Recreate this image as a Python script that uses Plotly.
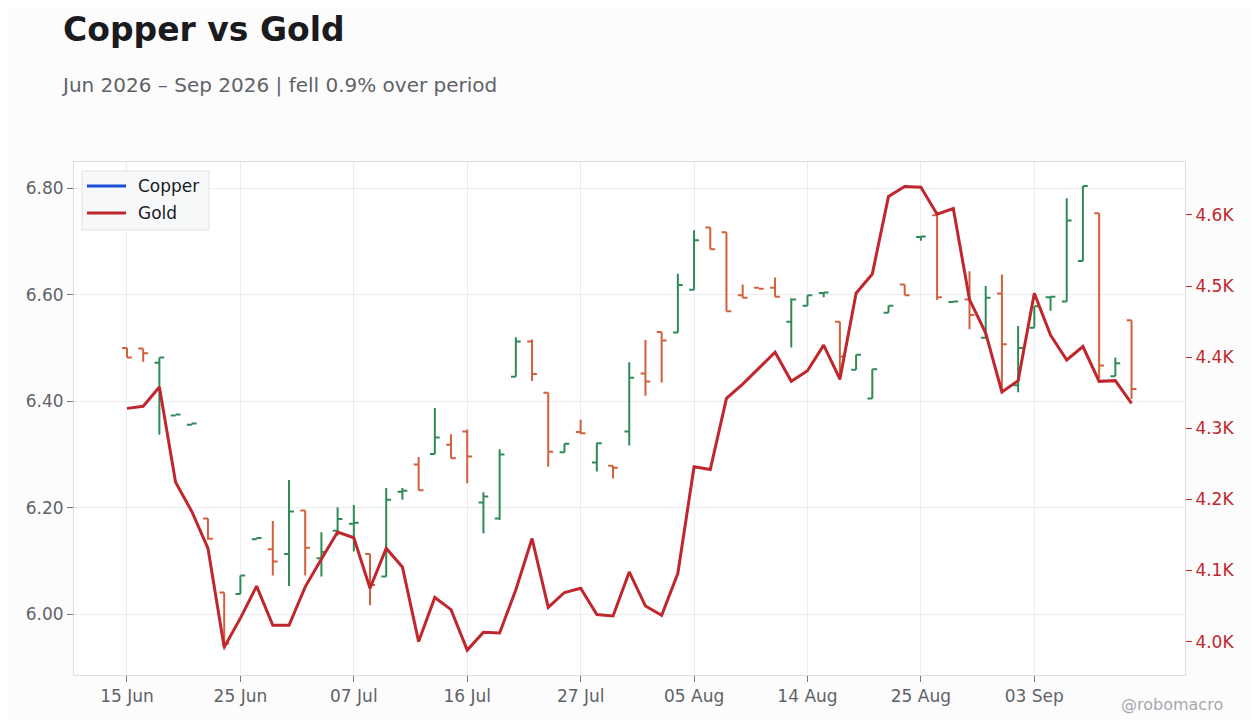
import plotly.graph_objects as go

# trading days (US calendar, holidays skipped)
dates = [
    "2026-06-15", "2026-06-16", "2026-06-17", "2026-06-18", "2026-06-22", "2026-06-23", "2026-06-24",
    "2026-06-25", "2026-06-26", "2026-06-29", "2026-06-30", "2026-07-01", "2026-07-02", "2026-07-06",
    "2026-07-07", "2026-07-08", "2026-07-09", "2026-07-10", "2026-07-13", "2026-07-14", "2026-07-15",
    "2026-07-16", "2026-07-17", "2026-07-20", "2026-07-21", "2026-07-22", "2026-07-23", "2026-07-24",
    "2026-07-27", "2026-07-28", "2026-07-29", "2026-07-30", "2026-07-31", "2026-08-03", "2026-08-04",
    "2026-08-05", "2026-08-06", "2026-08-07", "2026-08-10", "2026-08-11", "2026-08-12", "2026-08-13",
    "2026-08-14", "2026-08-17", "2026-08-18", "2026-08-19", "2026-08-20", "2026-08-21", "2026-08-24",
    "2026-08-25", "2026-08-26", "2026-08-27", "2026-08-28", "2026-08-31", "2026-09-01", "2026-09-02",
    "2026-09-03", "2026-09-04", "2026-09-08", "2026-09-09", "2026-09-10", "2026-09-11", "2026-09-14",
]

copper_open = [
    6.500, 6.499, 6.472, 6.373, 6.356, 6.180, 6.041, 6.038, 6.141, 6.122,
    6.113, 6.195, 6.105, 6.157, 6.170, 6.113, 6.071, 6.230, 6.281, 6.301,
    6.318, 6.343, 6.210, 6.180, 6.446, 6.512, 6.416, 6.304, 6.342, 6.285,
    6.279, 6.343, 6.452, 6.530, 6.529, 6.609, 6.726, 6.717, 6.599, 6.613,
    6.613, 6.549, 6.579, 6.603, 6.549, 6.459, 6.405, 6.566, 6.619, 6.708,
    6.749, 6.586, 6.591, 6.519, 6.602, 6.430, 6.538, 6.595, 6.587, 6.663,
    6.753, 6.447, 6.552,
]
copper_high = [
    6.500, 6.499, 6.482, 6.375, 6.358, 6.180, 6.041, 6.073, 6.143, 6.175,
    6.252, 6.195, 6.154, 6.201, 6.205, 6.113, 6.237, 6.237, 6.295, 6.387,
    6.338, 6.347, 6.229, 6.310, 6.520, 6.516, 6.416, 6.320, 6.365, 6.322,
    6.279, 6.473, 6.515, 6.530, 6.639, 6.721, 6.726, 6.717, 6.619, 6.613,
    6.632, 6.593, 6.599, 6.604, 6.549, 6.487, 6.460, 6.579, 6.619, 6.709,
    6.749, 6.587, 6.644, 6.616, 6.638, 6.541, 6.578, 6.596, 6.781, 6.804,
    6.753, 6.482, 6.552,
]
copper_low = [
    6.482, 6.474, 6.337, 6.373, 6.356, 6.140, 5.933, 6.038, 6.141, 6.073,
    6.053, 6.073, 6.071, 6.148, 6.118, 6.017, 6.071, 6.215, 6.233, 6.301,
    6.293, 6.246, 6.152, 6.177, 6.446, 6.438, 6.277, 6.304, 6.338, 6.268,
    6.255, 6.317, 6.410, 6.435, 6.529, 6.609, 6.685, 6.569, 6.594, 6.611,
    6.596, 6.501, 6.579, 6.595, 6.440, 6.459, 6.405, 6.566, 6.599, 6.701,
    6.590, 6.586, 6.535, 6.518, 6.418, 6.417, 6.538, 6.570, 6.587, 6.663,
    6.443, 6.447, 6.404,
]
copper_close = [
    6.482, 6.490, 6.482, 6.375, 6.358, 6.142, 5.945, 6.073, 6.143, 6.099,
    6.193, 6.125, 6.117, 6.179, 6.172, 6.055, 6.215, 6.232, 6.233, 6.332,
    6.293, 6.296, 6.221, 6.300, 6.512, 6.451, 6.305, 6.320, 6.340, 6.321,
    6.275, 6.444, 6.437, 6.514, 6.618, 6.702, 6.685, 6.569, 6.594, 6.611,
    6.596, 6.591, 6.599, 6.604, 6.484, 6.487, 6.460, 6.579, 6.599, 6.709,
    6.595, 6.587, 6.562, 6.594, 6.507, 6.500, 6.578, 6.596, 6.739, 6.804,
    6.467, 6.471, 6.423,
]
gold = [
    4328, 4331, 4358, 4224, 4183, 4131, 3992, 4033, 4078, 4023,
    4023, 4077, 4116, 4154, 4146, 4075, 4131, 4105, 4000, 4062,
    4045, 3988, 4013, 4012, 4073, 4145, 4048, 4069, 4075, 4038,
    4036, 4098, 4050, 4037, 4096, 4246, 4242, 4342, 4362, 4385,
    4407, 4366, 4381, 4417, 4369, 4490, 4517, 4626, 4640, 4639,
    4601, 4609, 4481, 4434, 4351, 4367, 4490, 4431, 4396, 4415,
    4366, 4367, 4335,
]

x_tick_labels = ["15 Jun", "25 Jun", "07 Jul", "16 Jul", "27 Jul", "05 Aug", "14 Aug", "25 Aug", "03 Sep"]
gold_ticks = [4000, 4100, 4200, 4300, 4400, 4500, 4600]
gold_tick_labels = ["4.0K", "4.1K", "4.2K", "4.3K", "4.4K", "4.5K", "4.6K"]
legend_names = ["Copper", "Gold"]

FONT = "DejaVu Sans"
UP = "#2e8b57"
DOWN = "#d2603c"
GOLD_RED = "#c0272d"
COPPER_BLUE = "#1d4ed8"
legend_colors = [COPPER_BLUE, GOLD_RED]

fig = go.Figure()

fig.add_trace(go.Ohlc(
    x=dates, open=copper_open, high=copper_high, low=copper_low, close=copper_close,
    increasing=dict(line=dict(color=UP, width=2)),
    decreasing=dict(line=dict(color=DOWN, width=2)),
    tickwidth=0.3, showlegend=False, name="Copper",
))
fig.add_trace(go.Scatter(
    x=dates, y=gold, mode="lines", name="Gold", yaxis="y2",
    line=dict(color=GOLD_RED, width=3), showlegend=False,
))

# legend box drawn by hand (longer sample lines than plotly's own legend)
shapes = [dict(
    type="rect", xref="paper", yref="paper", layer="above",
    x0=0.0072, x1=0.1215, y0=0.8674, y1=0.9825,
    fillcolor="#f7f8fa", line=dict(color="#e2e2e2", width=1),
)]
annotations = []
for i, (name, col) in enumerate(zip(legend_names, legend_colors)):
    yy = 0.9532 - i * 0.0526
    shapes.append(dict(
        type="line", xref="paper", yref="paper", layer="above",
        x0=0.0117, x1=0.0468, y0=yy, y1=yy,
        line=dict(color=col, width=3),
    ))
    annotations.append(dict(
        text=name, xref="paper", yref="paper", x=0.0558, y=yy,
        xanchor="left", yanchor="middle", showarrow=False,
        font=dict(family=FONT, size=17, color="#1a1a1f"),
    ))

annotations += [
    dict(
        text="Jun 2026 – Sep 2026 | fell 0.9% over period",
        xref="paper", yref="paper",
        x=(59 - 74) / 1111, y=(675 - 85) / 513,
        xanchor="left", yanchor="middle", showarrow=False,
        font=dict(family=FONT, size=20, color="#5f6368"),
    ),
    dict(
        text="@robomacro",
        xref="paper", yref="paper",
        x=(1225 - 74) / 1111, y=(675 - 704) / 513,
        xanchor="right", yanchor="middle", showarrow=False,
        font=dict(family=FONT, size=16, color="#a8a9b0"),
    ),
]

fig.update_layout(
    width=1244, height=712,
    margin=dict(l=66, r=67, t=154, b=45),
    paper_bgcolor="#fcfcfd",
    plot_bgcolor="#ffffff",
    font=dict(family=FONT, size=17, color="#5f6368"),
    title=dict(
        text="<b>Copper vs Gold</b>",
        font=dict(family=FONT, size=33, color="#1a1a1f"),
        x=55 / 1244, xanchor="left", xref="container",
        y=1 - 21 / 712, yanchor="middle", yref="container",
    ),
    showlegend=False,
    xaxis=dict(
        type="category",
        range=[-3.27, 65.3],
        rangeslider=dict(visible=False),
        tickvals=dates[::7],
        ticktext=x_tick_labels,
        ticks="outside", ticklen=6, tickcolor="#777777",
        showgrid=True, gridcolor="#ececec", gridwidth=1,
        showline=True, linecolor="#dddddd", mirror=True,
        tickfont=dict(size=17, color="#5f6368"),
    ),
    yaxis=dict(
        range=[5.886, 6.849],
        tickvals=[6.0, 6.2, 6.4, 6.6, 6.8],
        tickformat=".2f",
        ticks="outside", ticklen=6, tickcolor="#777777",
        showgrid=True, gridcolor="#ececec", gridwidth=1,
        showline=True, linecolor="#dddddd", mirror=True,
        zeroline=False,
        tickfont=dict(size=17, color="#5f6368"),
    ),
    yaxis2=dict(
        overlaying="y", side="right",
        range=[3953, 4674.5],
        tickvals=gold_ticks, ticktext=gold_tick_labels,
        ticks="outside", ticklen=6, tickcolor=GOLD_RED,
        showgrid=False, zeroline=False,
        tickfont=dict(size=17, color=GOLD_RED),
    ),
    shapes=shapes,
    annotations=annotations,
)

fig.write_html("out.html")
